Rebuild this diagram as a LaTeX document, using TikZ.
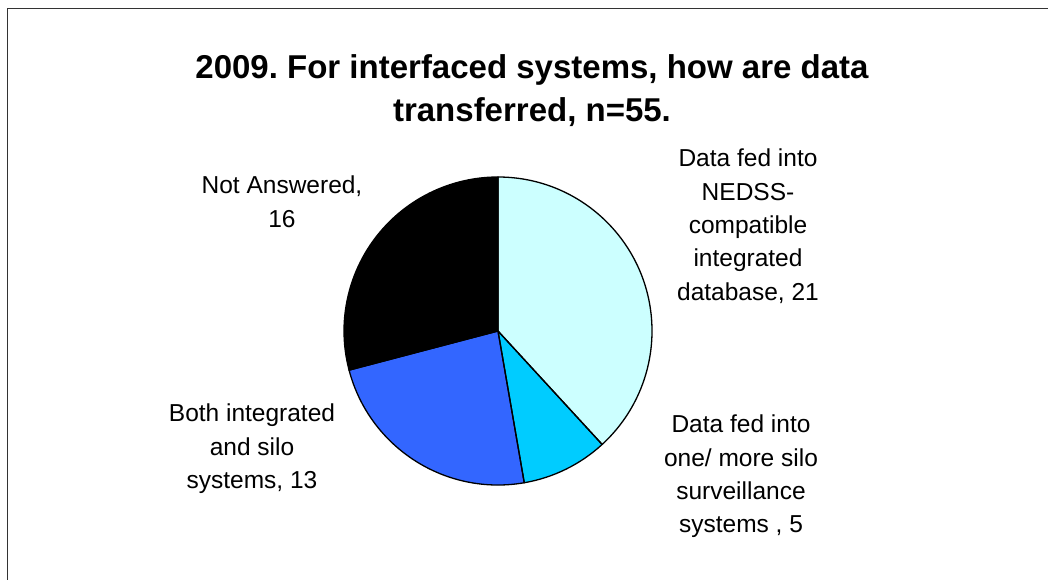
\documentclass[tikz,border=0pt]{standalone}
\usepackage{fontspec}
\setmainfont{Liberation Sans}
\frenchspacing
\definecolor{slA}{HTML}{CCFFFF}
\definecolor{slB}{HTML}{00CCFF}
\definecolor{slC}{HTML}{3366FF}
\definecolor{frm}{HTML}{333333}
\begin{document}
\begin{tikzpicture}[x=1pt,y=1pt,
  lbl/.style={align=center,anchor=north,inner sep=0pt,font=\fontsize{24.5}{33.3}\selectfont},
  ttl/.style={align=center,anchor=north,inner sep=0pt,font=\fontsize{33}{43}\selectfont\bfseries},
  slice/.style={draw=black,line width=1.3pt,line join=round}]
\useasboundingbox (0,0) rectangle (1048,579);
\clip (0,0) rectangle (1048,579);
\fill[white] (0,0) rectangle (1048,579);
\draw[frm,line width=1.3pt] (7.5,-20) -- (7.5,570.5) -- (1070,570.5);
% pie
\coordinate (c) at (498,248);
\fill[slA] (c) -- ++(90:154) arc[start angle=90,end angle=-47.45,radius=154] -- cycle;
\fill[slB] (c) -- ++(-47.45:154) arc[start angle=-47.45,end angle=-80.18,radius=154] -- cycle;
\fill[slC] (c) -- ++(-80.18:154) arc[start angle=-80.18,end angle=-165.27,radius=154] -- cycle;
\fill[black] (c) -- ++(-165.27:154) arc[start angle=-165.27,end angle=-270,radius=154] -- cycle;
\draw[slice] (c) -- ++(90:154) arc[start angle=90,end angle=-47.45,radius=154] -- cycle;
\draw[slice] (c) -- ++(-47.45:154) arc[start angle=-47.45,end angle=-80.18,radius=154] -- cycle;
\draw[slice] (c) -- ++(-80.18:154) arc[start angle=-80.18,end angle=-165.27,radius=154] -- cycle;
\draw[slice] (c) -- ++(-165.27:154) arc[start angle=-165.27,end angle=-270,radius=154] -- cycle;
% title
\node[ttl] (title) at (532,525) {2009. For interfaced systems, how are data\\transferred, n=55.};
% labels
\node[lbl] (la) at (748,430) {Data fed into\\NEDSS-\\compatible\\integrated\\database, 21};
\node[lbl] (lb) at (741,164) {Data fed into\\one/ more silo\\surveillance\\systems , 5};
\node[lbl] (lc) at (252,175) {Both integrated\\and silo\\systems, 13};
\node[lbl] (ld) at (282,403) {Not Answered,\\16};
\end{tikzpicture}
\end{document}
